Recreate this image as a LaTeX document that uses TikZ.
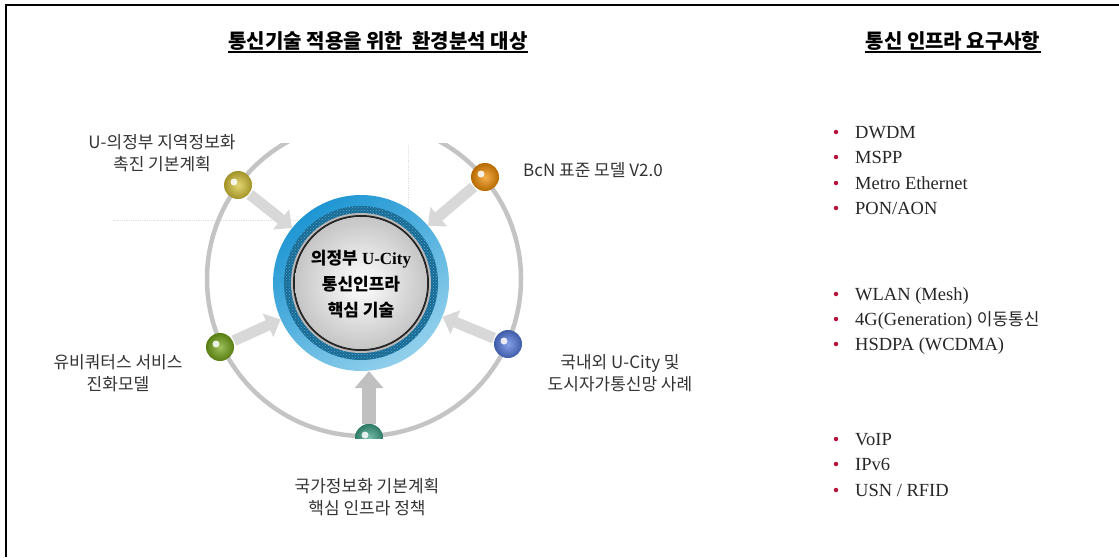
\documentclass[tikz,border=0pt]{standalone}
\usepackage{fontspec}
\setmainfont{Liberation Serif}
\newfontfamily\kr{Noto Sans CJK KR}
\usetikzlibrary{arrows.meta,shadings,patterns}

\definecolor{ringgray}{HTML}{C4C4C4}
\definecolor{feedgray}{HTML}{D8D8D8}
\definecolor{trunkgray}{HTML}{C0C0C0}
\definecolor{bulletred}{HTML}{B5123C}
\definecolor{labelink}{HTML}{333333}
\definecolor{coreblue}{HTML}{1E96D3}
\definecolor{corelight}{HTML}{92D0EC}
\definecolor{coredeep}{HTML}{1A6A92}
\definecolor{ballyellow}{HTML}{D8C436}
\definecolor{ballorange}{HTML}{F28C00}
\definecolor{ballgreen}{HTML}{74A616}
\definecolor{ballblue}{HTML}{5479E0}
\definecolor{ballteal}{HTML}{3FA488}

\begin{document}
\begin{tikzpicture}[x=1pt,y=-1pt,
  heading/.style={font=\kr\bfseries\fontsize{20}{22}\selectfont, inner sep=0pt, anchor=base},
  label/.style={font=\kr\fontsize{17}{22.5}\selectfont, text=labelink, align=center, inner sep=0pt},
  item/.style={font=\fontsize{18.5}{20}\selectfont, text=black!85, anchor=base west, inner sep=0pt},
  dot/.style={circle, fill=bulletred, inner sep=0pt, minimum size=4.5pt},
  ball/.style={circle, inner sep=0pt, minimum size=28pt,
    inner color=#1!70!white, outer color=#1!75!black,
    path picture={\fill[white, opacity=0.85]
      ([xshift=-4pt,yshift=3pt]path picture bounding box.center) circle (3.5pt);}},
  feed/.style={line width=11pt, draw=feedgray, -{Triangle[length=14pt,width=25pt]}, shorten <=1pt},
  trunk/.style={line width=14pt, draw=trunkgray, -{Triangle[length=17pt,width=28pt]}},
]
\useasboundingbox (0,0) rectangle (1119,557);

% page frame (top and left edges)
\draw[line width=2pt] (6,557) -- (6,5) -- (1119,5);

% headings
\node[heading] (h1) at (378,48) {통신기술 적용을 위한\ \ 환경분석 대상};
\node[heading] (h2) at (953,48) {통신 인프라 요구사항};
\draw[line width=1.3pt] ([yshift=-4pt]h1.base west) -- ([yshift=-4pt]h1.base east);
\draw[line width=1.3pt] ([yshift=-4pt]h2.base west) -- ([yshift=-4pt]h2.base east);

% faint guide lines of the figure frame
\draw[black!12, densely dotted, line width=0.8pt] (113,220) -- (408,220) -- (408,145);

% orbit, balls and feeding arrows
\coordinate (ringc) at (364,279);
\begin{scope}
  \clip (100,143) rectangle (700,438.5);
  \draw[ringgray, line width=4.5pt] (ringc) circle (157);

  % core disc
  \node[circle, minimum size=176pt, inner sep=0pt, top color=coreblue, bottom color=corelight, shading angle=35] (core) at (361,283) {};
  \fill[coredeep] (core.center) circle (77);
  \fill[pattern=crosshatch dots, pattern color=coreblue!80] (core.center) circle (77);
  \fill[gray!55] (core.center) circle (70);
  \draw[black!85, line width=2pt] (core.center) circle (67);
  \shade[inner color=white, outer color=gray!45] (core.center) circle (66);

  \node[ball=ballyellow] (b1) at (238,185) {};
  \node[ball=ballorange] (b2) at (485,177) {};
  \node[ball=ballgreen]  (b3) at (220,347) {};
  \node[ball=ballblue]   (b4) at (508,344) {};
  \node[ball=ballteal]   (b5) at (369,438) {};

  \draw[feed] (b1) -- (core);
  \draw[feed] (b2) -- (core);
  \draw[feed] (b3) -- (core);
  \draw[feed] (b4) -- (core);
  \draw[trunk] (b5) -- (b5 |- core.south);
  \node[ball=ballteal] at (b5) {};
\end{scope}

% core caption
\node[font=\bfseries\fontsize{17}{26}\selectfont, align=center, inner sep=0pt] (coretxt) at (361,284)
  {{\kr 의정부} U-City\\{\kr 통신인프라}\\{\kr 핵심 기술}};

% labels of the five sources
\node[label] (l1) at (162,153) {U-의정부 지역정보화\\촉진 기본계획};
\node[label, anchor=west] (l2) at (523,170) {BcN 표준 모델 V2.0};
\node[label] (l3) at (118,373) {유비쿼터스 서비스\\진화모델};
\node[label] (l4) at (620,373) {국내외 U-City 및\\도시자가통신망 사례};
\node[label] (l5) at (367,497) {국가정보화 기본계획\\핵심 인프라 정책};

% requirement lists
\foreach \y/\t [count=\i] in {132/{DWDM}, 157/{MSPP}, 183/{Metro Ethernet}, 208/{PON/AON},
    294/{WLAN (Mesh)}, 319/{4G(Generation) {\kr\fontsize{17}{20}\selectfont 이동통신}}, 344/{HSDPA (WCDMA)},
    439/{VoIP}, 464/{IPv6}, 490/{USN / RFID}}{
  \node[dot] (d\i) at (836,\y) {};
  \node[item] (r\i) at (855,\y+6) {\t};
}
\end{tikzpicture}
\end{document}
